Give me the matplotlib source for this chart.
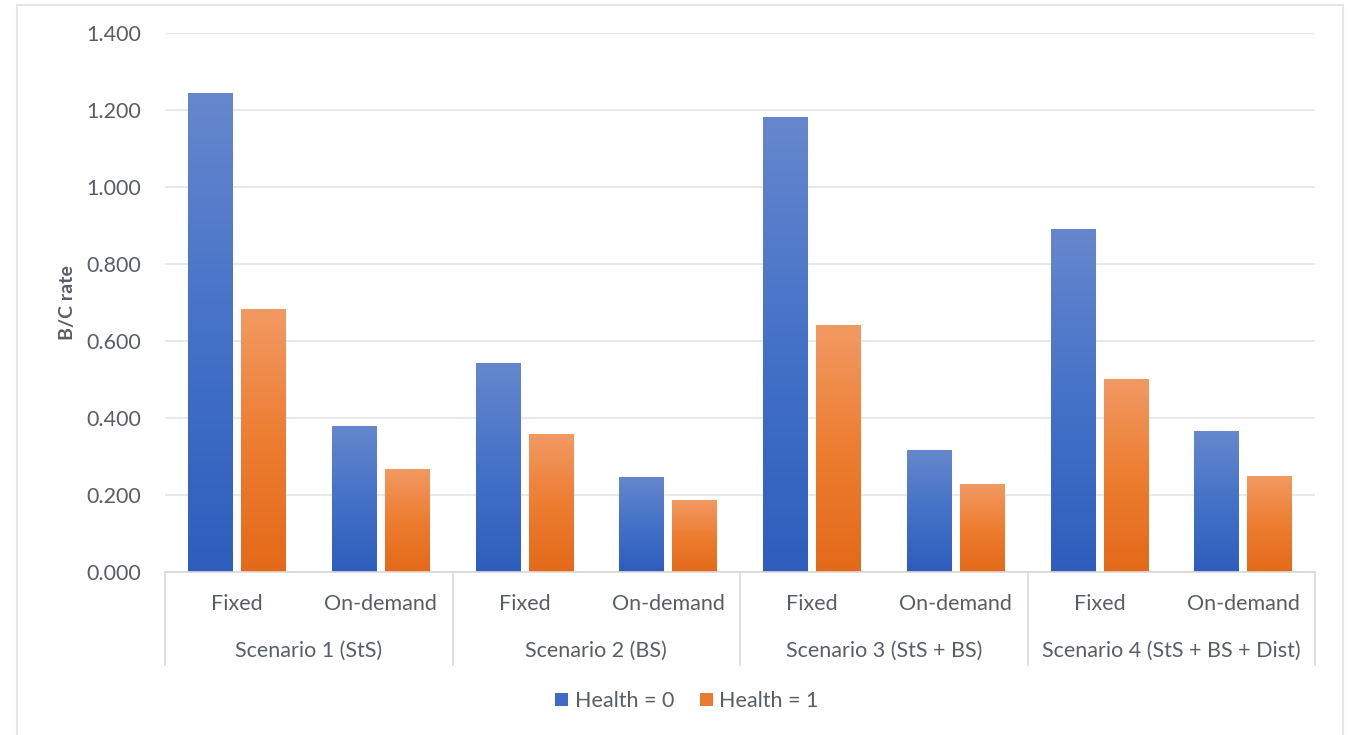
import numpy as np
import matplotlib
matplotlib.use("Agg")
import matplotlib.pyplot as plt
from matplotlib.colors import LinearSegmentedColormap
from matplotlib.patches import Patch, Rectangle
from matplotlib.lines import Line2D

scenarios = ["Scenario 1 (StS)", "Scenario 2 (BS)", "Scenario 3 (StS + BS)",
             "Scenario 4 (StS + BS + Dist)"]
modes = ["Fixed", "On-demand"]
series = ["Health = 0", "Health = 1"]

# B/C rate, ordered scenario by scenario: Fixed, On-demand
health0 = [1.245, 0.380, 0.543, 0.247, 1.182, 0.318, 0.891, 0.366]
health1 = [0.684, 0.268, 0.358, 0.187, 0.642, 0.229, 0.501, 0.249]

yticks = [0.0, 0.2, 0.4, 0.6, 0.8, 1.0, 1.2, 1.4]

plt.rcParams['font.family'] = ['Lato', 'DejaVu Sans']
text_col = "#595E66"
grid_col = "#E6E7EB"
fs = 15.5

# vertical gradients, light at the top, dark at the bottom
blue = LinearSegmentedColormap.from_list("blue", ["#2E5DBD", "#4472C8", "#6687CD"])
orange = LinearSegmentedColormap.from_list("orange", ["#E36A18", "#ED7D31", "#F29A64"])

fig = plt.figure(figsize=(13.48, 7.35), dpi=100)
ax = fig.add_axes([165 / 1348, 1 - 572 / 735, 1150 / 1348, 539 / 735])

x = np.arange(len(health0))
w = 0.31
off = 0.185

grad = np.linspace(0, 1, 256).reshape(-1, 1)
for vals, dx, cmap in [(health0, -off, blue), (health1, off, orange)]:
    bars = ax.bar(x + dx, vals, width=w, color="none", zorder=2)
    for b in bars:
        x0, y0 = b.get_x(), b.get_y()
        im = ax.imshow(grad, cmap=cmap, origin="lower", aspect="auto",
                       extent=[x0, x0 + b.get_width(), y0, y0 + b.get_height()],
                       zorder=2, interpolation="bilinear")
        im.set_clip_path(b)

ax.set_xlim(-0.5, len(health0) - 0.5)
ax.set_ylim(0, 1.4)
ax.set_yticks(yticks)
ax.set_yticklabels([f"{v:.3f}" for v in yticks])
ax.tick_params(axis="y", length=0, pad=17, labelsize=fs, labelcolor=text_col)
ax.set_xticks([])
ax.grid(axis="y", color=grid_col, linewidth=1.3, zorder=0)
ax.set_axisbelow(True)
for s in ["top", "right", "left"]:
    ax.spines[s].set_visible(False)
ax.spines["bottom"].set_color("#D9D9D9")
ax.spines["bottom"].set_linewidth(1.2)

# two-level category axis
tr = ax.get_xaxis_transform()
for i, lab in enumerate(modes * len(scenarios)):
    ax.text(i, -0.059, lab, transform=tr, ha="center", va="center",
            fontsize=fs, color=text_col)
for j, lab in enumerate(scenarios):
    ax.text(2 * j + 0.5, -0.147, lab, transform=tr, ha="center", va="center",
            fontsize=fs, color=text_col)
for k in range(len(scenarios) + 1):
    ax.add_line(Line2D([2 * k - 0.5] * 2, [0, -0.1725], transform=tr,
                       color="#D9D9D9", linewidth=1.2, clip_on=False))

fig.text(67 / 1348, 1 - 303 / 735, "B/C rate", rotation=90, ha="center",
         va="center", fontsize=14, fontweight="bold", color=text_col)

handles = [Patch(facecolor="#3F6BC4", edgecolor="none"),
           Patch(facecolor="#EC7A2C", edgecolor="none")]
fig.legend(handles, series, loc="center", bbox_to_anchor=(687 / 1348, 1 - 701 / 735),
           ncol=2, frameon=False, fontsize=fs, labelcolor=text_col,
           handlelength=0.6, handleheight=0.6, handletextpad=0.3, columnspacing=1.2)

fig.patches.append(Rectangle((17 / 1348, -0.01), 1326 / 1348, 1 - 5 / 735 + 0.01,
                             transform=fig.transFigure, fill=False,
                             edgecolor="#E4E6EA", linewidth=1.5))

fig.savefig("out.png", dpi=100)
